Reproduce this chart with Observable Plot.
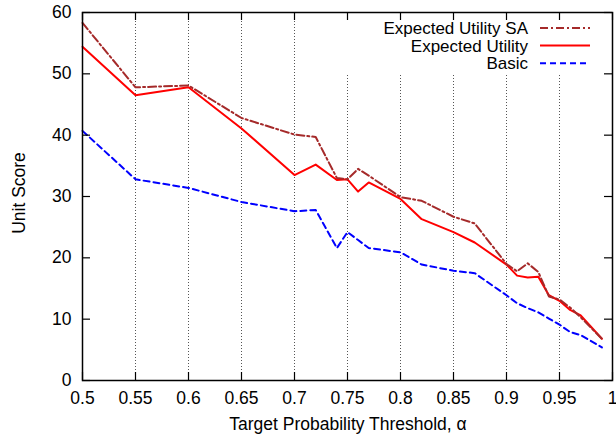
<!DOCTYPE html>
<html>
<head>
<meta charset="utf-8">
<script src="https://cdn.jsdelivr.net/npm/d3@7"></script>
<script src="https://cdn.jsdelivr.net/npm/@observablehq/plot@0.6"></script>
<style>
  html, body { margin: 0; padding: 0; background: white; }
  #chart svg { display: block; }
</style>
</head>
<body>
<div id="chart"></div>
<script>
// Target probability threshold values (x)
const thresholds = [0.5, 0.55, 0.6, 0.65, 0.7, 0.72, 0.74, 0.75, 0.76, 0.77, 0.8, 0.82, 0.85, 0.87, 0.9, 0.91, 0.92, 0.93, 0.94, 0.95, 0.96, 0.97, 0.99];
// Series values (Unit Score)
const expectedUtilitySA = [58.3, 47.8, 48.1, 42.8, 40.1, 39.7, 33.0, 32.8, 34.5, 33.4, 29.9, 29.3, 26.7, 25.6, 19.0, 17.8, 19.1, 17.7, 13.7, 13.2, 11.9, 10.3, 6.8];
const expectedUtility   = [54.4, 46.5, 47.8, 41.1, 33.5, 35.2, 32.7, 32.8, 30.8, 32.3, 29.6, 26.3, 24.2, 22.5, 18.9, 17.1, 16.8, 16.9, 13.9, 13.0, 11.5, 10.6, 6.8];
const basic             = [40.7, 32.8, 31.4, 29.1, 27.6, 27.8, 21.6, 24.2, 22.9, 21.6, 20.9, 18.9, 17.9, 17.5, 13.9, 12.6, 11.8, 11.1, 10.1, 9.1, 7.9, 7.4, 5.4];
// Tick labels
const xTicks = [0.5, 0.55, 0.6, 0.65, 0.7, 0.75, 0.8, 0.85, 0.9, 0.95, 1];
const yTicks = [0, 10, 20, 30, 40, 50, 60];
const gridX = [0.55, 0.6, 0.65, 0.7, 0.75, 0.8, 0.85, 0.9, 0.95];
const seriesNames = ["Expected Utility SA", "Expected Utility", "Basic"];
const xTitle = "Target Probability Threshold, α";
const yTitle = "Unit Score";

const table = thresholds.map((t, i) => ({t, sa: expectedUtilitySA[i], eu: expectedUtility[i], basic: basic[i]}));

const W = 616, H = 441;
const mL = 82, mR = 4, mT = 12, mB = 61;
const innerW = W - mL - mR, innerH = H - mT - mB;
const tickLen = 8;
const font = "'Liberation Sans', Arial, Helvetica, sans-serif";
const fs = 17.5;
const legendFs = 17;

const styles = {
  sa:    {stroke: "#a52a2a", strokeWidth: 2, strokeDasharray: "8,3,2,3"},
  eu:    {stroke: "#ff0000", strokeWidth: 2},
  basic: {stroke: "#0000ff", strokeWidth: 2, strokeDasharray: "6,4"}
};

const chart = Plot.plot({
  width: W, height: H,
  marginLeft: mL, marginRight: mR, marginTop: mT, marginBottom: mB,
  style: {fontFamily: font, fontSize: fs + "px", color: "#000", background: "white", overflow: "visible"},
  x: {domain: [0.5, 1]},
  y: {domain: [0, 60]},
  marks: [
    Plot.ruleX(gridX, {stroke: "#555", strokeWidth: 1, strokeDasharray: "1,2"}),
    Plot.line(table, {x: "t", y: "basic", ...styles.basic}),
    Plot.line(table, {x: "t", y: "eu", ...styles.eu}),
    Plot.line(table, {x: "t", y: "sa", ...styles.sa}),
    Plot.axisX({ticks: xTicks, tickSize: 0, tickPadding: 11, tickFormat: d => String(+d.toFixed(2)), label: null}),
    Plot.axisY({ticks: yTicks, tickSize: 0, tickPadding: 11, label: null}),
    // inward ticks on all four sides
    Plot.ruleX(xTicks, {stroke: "#000", strokeWidth: 1.2, insetTop: innerH - tickLen}),
    Plot.ruleX(xTicks, {stroke: "#000", strokeWidth: 1.2, insetBottom: innerH - tickLen}),
    Plot.ruleY(yTicks, {stroke: "#000", strokeWidth: 1.2, insetRight: innerW - tickLen}),
    Plot.ruleY(yTicks, {stroke: "#000", strokeWidth: 1.2, insetLeft: innerW - tickLen}),
    Plot.frame({stroke: "#000", strokeWidth: 1.5})
  ]
});

document.getElementById("chart").appendChild(chart);

const svg = d3.select(chart);
// legend background hides grid beneath the key
svg.insert("rect", "g[aria-label='line']")
  .attr("x", 340).attr("y", 20).attr("width", 270).attr("height", 55)
  .attr("fill", "white");

const leg = svg.append("g").attr("font-family", font).attr("font-size", legendFs);
const keys = ["sa", "eu", "basic"];
keys.forEach((k, i) => {
  const cy = 28 + i * 17.6;
  leg.append("text").attr("x", 528).attr("y", cy).attr("dy", "0.35em")
    .attr("text-anchor", "end").attr("fill", "#000").text(seriesNames[i]);
  leg.append("line").attr("x1", 540).attr("x2", 590).attr("y1", cy).attr("y2", cy)
    .attr("stroke", styles[k].stroke).attr("stroke-width", styles[k].strokeWidth)
    .attr("stroke-dasharray", styles[k].strokeDasharray || null);
});

svg.append("text").attr("x", mL + innerW / 2 + 1).attr("y", 430)
  .attr("text-anchor", "middle").attr("font-family", font).attr("font-size", fs)
  .attr("fill", "#000").text(xTitle);
svg.append("text").attr("transform", `translate(25,${mT + innerH / 2 - 3}) rotate(-90)`)
  .attr("text-anchor", "middle").attr("font-family", font).attr("font-size", fs)
  .attr("fill", "#000").text(yTitle);
</script>
</body>
</html>
